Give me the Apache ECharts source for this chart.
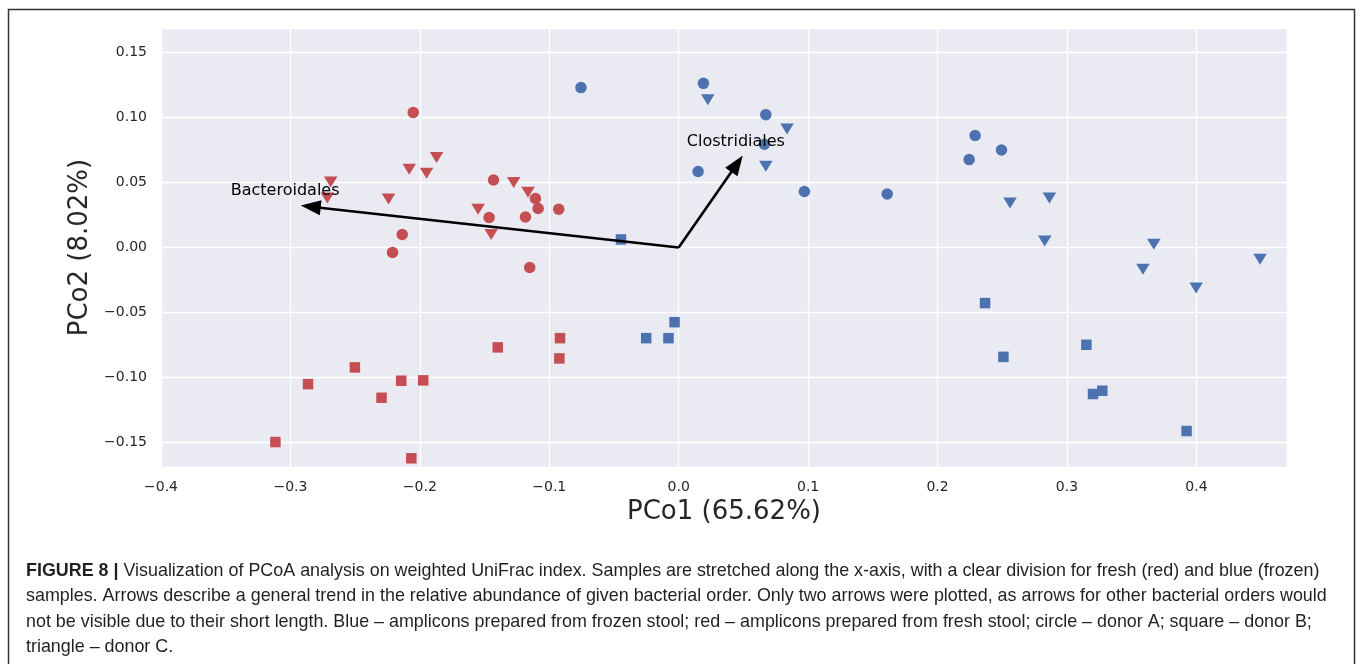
<!DOCTYPE html>
<html><head><meta charset="utf-8">
<script src="https://cdn.jsdelivr.net/npm/echarts@6/dist/echarts.min.js"></script>
<style>html,body{margin:0;padding:0;background:#fff}#c{width:1360px;height:664px}</style>
</head><body><div id="c"></div>
<script>
// PCoA coordinates [PCo1, PCo2]
const freshDonorA = [[-0.2051,0.1040],[-0.1431,0.0520],[-0.1107,0.0377],[-0.1086,0.0300],[-0.1465,0.0231],[-0.1184,0.0235],[-0.2136,0.0100],[-0.2211,-0.0038],[-0.0927,0.0295],[-0.1151,-0.0154]];
const freshDonorB = [[-0.3116,-0.1498],[-0.2864,-0.1052],[-0.2502,-0.0923],[-0.2296,-0.1157],[-0.2144,-0.1026],[-0.1974,-0.1023],[-0.2066,-0.1623],[-0.1398,-0.0769],[-0.0917,-0.0698],[-0.0922,-0.0854]];
const freshDonorC = [[-0.2689,0.0505],[-0.2715,0.0382],[-0.2082,0.0602],[-0.1948,0.0572],[-0.1871,0.0692],[-0.2242,0.0374],[-0.1275,0.0500],[-0.1164,0.0425],[-0.1550,0.0295],[-0.1449,0.0100]];
const frozenDonorA = [[-0.0755,0.1231],[0.0191,0.1264],[0.0673,0.1023],[0.0662,0.0795],[0.0150,0.0585],[0.0971,0.0431],[0.1611,0.0412],[0.2290,0.0862],[0.2494,0.0751],[0.2244,0.0677]];
const frozenDonorB = [[-0.0446,0.0062],[-0.0032,-0.0575],[-0.0251,-0.0698],[-0.0079,-0.0698],[0.2367,-0.0428],[0.2509,-0.0842],[0.3150,-0.0749],[0.3201,-0.1128],[0.3273,-0.1103],[0.3924,-0.1413]];
const frozenDonorC = [[0.0225,0.1138],[0.0837,0.0912],[0.0673,0.0625],[0.2560,0.0343],[0.2864,0.0382],[0.2828,0.0051],[0.3671,0.0025],[0.4492,-0.0090],[0.3587,-0.0167],[0.3998,-0.0311]];
// loading arrows: tip [x, y], label anchor [x, y]
const arrowNames = ['Bacteroidales','Clostridiales'];
const arrowTips = [[-0.2920,0.0323],[0.0495,0.0708]];
const arrowLabelAt = [[-0.3461,0.0435],[0.0063,0.0810]];
const xAxisName = 'PCo1 (65.62%)';
const yAxisName = 'PCo2 (8.02%)';
const captionLines = [
  'Visualization of PCoA analysis on weighted UniFrac index. Samples are stretched along the x-axis, with a clear division for fresh (red) and blue (frozen)',
  'samples. Arrows describe a general trend in the relative abundance of given bacterial order. Only two arrows were plotted, as arrows for other bacterial orders would',
  'not be visible due to their short length. Blue \u2013 amplicons prepared from frozen stool; red \u2013 amplicons prepared from fresh stool; circle \u2013 donor A; square \u2013 donor B;',
  'triangle \u2013 donor C.'
];
const captionLabel = 'FIGURE 8 |';

const RED = '#C44E52', BLUE = '#4C72B0';
const fmt = (step, dec) => v => {
  const k = v / step;
  if (Math.abs(k - Math.round(k)) > 1e-6) return '';
  const s = Math.abs(v).toFixed(dec);
  return (v < -1e-9 ? '\u2212' : '') + s;
};
const tickFont = {fontFamily:'DejaVu Sans', fontSize:14, color:'#262626'};

function sc(name, data, color, symbol, size, rot) {
  return {type:'scatter', name, data, symbol, symbolSize:size, symbolRotate:rot||0,
    itemStyle:{color, opacity:1}, z:2, emphasis:{disabled:true}};
}

const arrowData = arrowTips.map((t,i)=>[t[0],t[1],arrowLabelAt[i][0],arrowLabelAt[i][1]]);

const chart = echarts.init(document.getElementById('c'), null, {renderer:'canvas'});
chart.setOption({
  animation:false,
  backgroundColor:'#fff',
  grid:{left:161, top:28, right:73, bottom:197, show:true, backgroundColor:'#EAEAF2', borderWidth:0},
  xAxis:{type:'value', min:-0.4, max:0.47, interval:0.1,
    name:xAxisName, nameLocation:'middle', nameGap:32,
    nameTextStyle:{fontFamily:'DejaVu Sans', fontSize:26, color:'#262626'},
    axisLine:{show:false}, axisTick:{show:false},
    axisLabel:Object.assign({margin:13, formatter:fmt(0.1,1)}, tickFont),
    splitLine:{show:true, lineStyle:{color:'#fff', width:1.4}}},
  yAxis:{type:'value', min:-0.169, max:0.169, splitNumber:7,
    name:yAxisName, nameLocation:'middle', nameGap:58, nameRotate:90,
    nameTextStyle:{fontFamily:'DejaVu Sans', fontSize:26, color:'#262626'},
    axisLine:{show:false}, axisTick:{show:false},
    axisLabel:Object.assign({margin:14, formatter:fmt(0.05,2)}, tickFont),
    splitLine:{show:true, lineStyle:{color:'#fff', width:1.4}}},
  series:[
    sc('fresh A', freshDonorA, RED, 'circle', 11.5),
    sc('fresh B', freshDonorB, RED, 'rect', 10.5),
    sc('fresh C', freshDonorC, RED, 'triangle', [13.5,11], 180),
    sc('frozen A', frozenDonorA, BLUE, 'circle', 11.5),
    sc('frozen B', frozenDonorB, BLUE, 'rect', 10.5),
    sc('frozen C', frozenDonorC, BLUE, 'triangle', [13.5,11], 180),
    {type:'custom', z:5, data:arrowData, encode:{x:[0,2], y:[1,3]},
      renderItem(params, api){
        const i = params.dataIndex;
        const o = api.coord([0,0]);
        const t = api.coord([api.value(0), api.value(1)]);
        const dx = t[0]-o[0], dy = t[1]-o[1];
        const L = Math.hypot(dx,dy);
        const ux = dx/L, uy = dy/L;
        const hl = 20, hw = 7.5;
        const bx = t[0]-ux*hl, by = t[1]-uy*hl;
        const px = -uy, py = ux;
        const lab = api.coord([api.value(2), api.value(3)]);
        return {type:'group', children:[
          {type:'line', shape:{x1:o[0], y1:o[1], x2:bx+ux*3, y2:by+uy*3}, style:{stroke:'#000', lineWidth:2.6}},
          {type:'polygon', shape:{points:[[t[0],t[1]],[bx+px*hw,by+py*hw],[bx-px*hw,by-py*hw]]}, style:{fill:'#000'}},
          {type:'text', x:lab[0], y:lab[1], style:{text:arrowNames[i], fill:'#000', font:'16px "DejaVu Sans"', align:'left', verticalAlign:'middle'}}
        ]};
      }}
  ],
  graphic:[
    {type:'rect', shape:{x:8.5, y:9.5, width:1346, height:700}, style:{fill:null, stroke:'#333', lineWidth:1.5}, silent:true},
    ...captionLines.map((ln, i) => ({
      type:'text', left:26, top:562 + i*25.3,
      style:{
        text: i === 0 ? '{b|' + captionLabel + '} ' + ln : ln,
        font:'17.9px "Liberation Sans"', fill:'#231f20',
        rich:{b:{fontWeight:'bold', fontFamily:'Liberation Sans', fontSize:17.9, fill:'#231f20'}}
      }
    }))
  ]
});
</script></body></html>
